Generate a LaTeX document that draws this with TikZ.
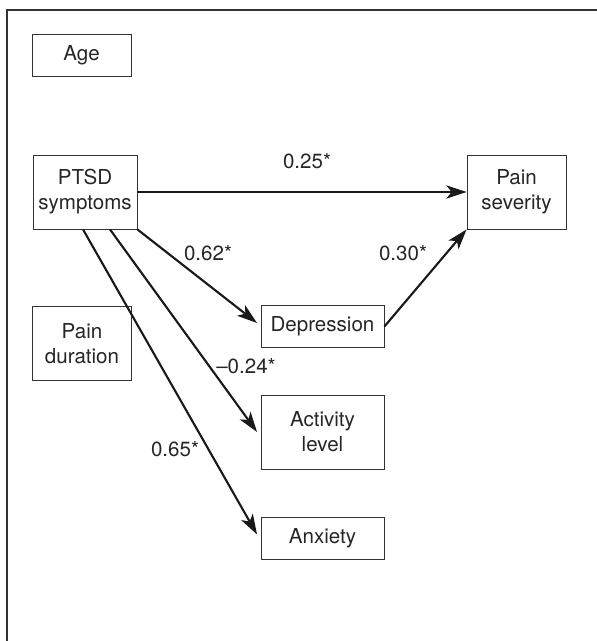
\documentclass[tikz,border=0pt]{standalone}
\usepackage{fontspec}
\setmainfont{TeX Gyre Heros}
\usetikzlibrary{arrows.meta}

\tikzset{
  var/.style={draw=black!80, line width=0.5pt, align=center, inner sep=0pt,
    font=\fontsize{11.7}{14.2}\selectfont, text=black!85},
  narrow/.style={var, minimum width=1.98cm},
  wide/.style={var, minimum width=2.46cm},
  low/.style={minimum height=0.84cm},
  tall/.style={minimum height=1.48cm},
  path/.style={line width=1.2pt, draw=black!90, -{Stealth[length=11.5pt,width=7.5pt,inset=3pt]}},
  coef/.style={font=\fontsize{11.7}{14}\selectfont, text=black!85, inner sep=0pt}
}

\begin{document}
\begin{tikzpicture}[x=0.02cm, y=-0.02cm]
	\useasboundingbox (0,0) rectangle (597,641);
	\draw[line width=1pt, black!80] (7,641) -- (7,10) -- (597,10);

	\node[narrow, low] (age) at (81.5,55) {Age};
	\node[narrow, tall, minimum width=2.08cm] (ptsd) at (85,192) {PTSD\\symptoms};
	\node[narrow, tall] (duration) at (82,343.5) {Pain\\duration};
	\node[narrow, tall] (severity) at (516.5,192) {Pain\\severity};
	\node[wide, low] (depression) at (322.5,326.5) {Depression};
	\node[wide, tall] (activity) at (322.5,432) {Activity\\level};
	\node[wide, low] (anxiety) at (322.5,538) {Anxiety};

	\draw[path] (ptsd.east) -- (severity.west) node[coef] (c1) at (307,161) {0.25*};
	\draw[path] (ptsd.south east) -- ([xshift=-2pt,yshift=2pt]depression.west) node[coef] (c2) at (208,253) {0.62*};
	\draw[path] (depression.east) -- (severity.south west) node[coef] (c3) at (403,253) {0.30*};
	\draw[path] ([xshift=0.5cm]ptsd.south) -- ([xshift=-2pt]activity.west) node[coef] (c4) at (246,366) {--0.24*};
	\draw[path] ([xshift=-0.04cm]ptsd.south) -- ([xshift=-2pt,yshift=2pt]anxiety.west) node[coef] (c5) at (175,449) {0.65*};
\end{tikzpicture}
\end{document}
